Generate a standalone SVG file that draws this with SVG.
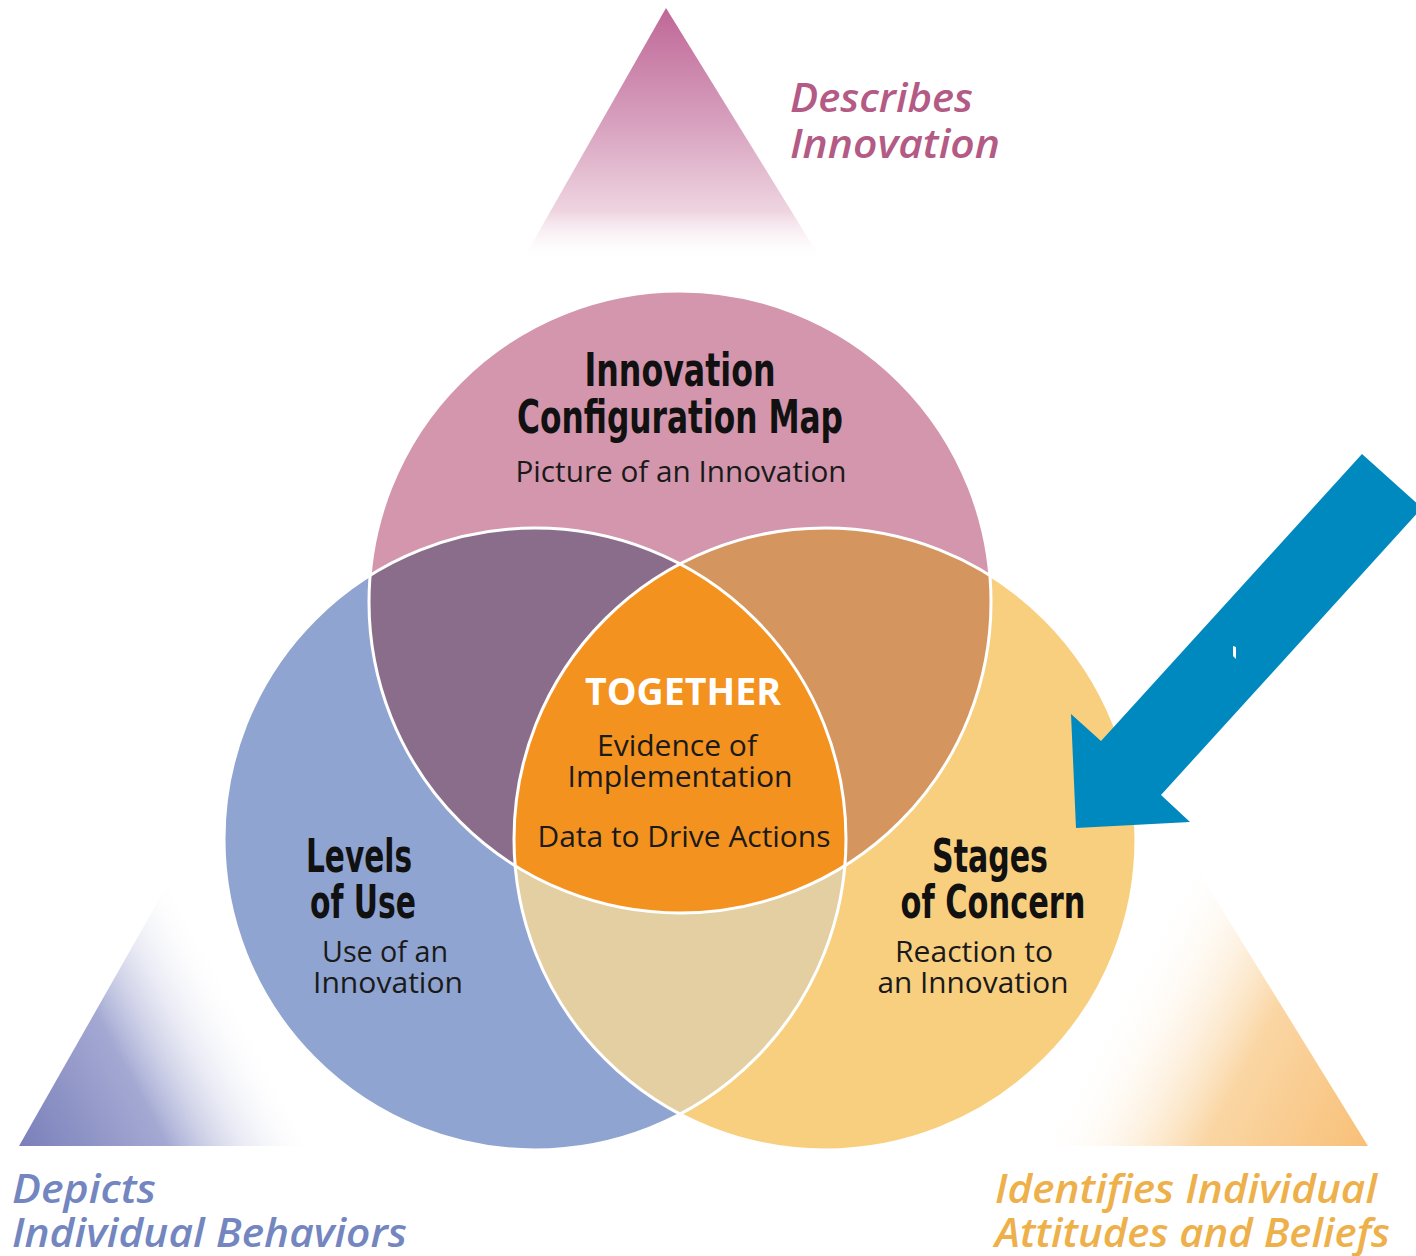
<svg xmlns="http://www.w3.org/2000/svg" width="1416" height="1256" viewBox="0 0 1416 1256">
<style>
.hd{font-family:"Liberation Sans Narrow","DejaVu Sans Condensed","DejaVu Sans",sans-serif;font-stretch:condensed;font-weight:bold;font-size:46px;fill:#111;text-anchor:middle}
.bd{font-family:"Open Sans","Noto Sans","Liberation Sans",sans-serif;font-size:29px;fill:#1a1a1a;text-anchor:middle}
.tg{font-family:"Open Sans","Noto Sans","Liberation Sans",sans-serif;font-weight:bold;font-size:38px;fill:#ffffff;text-anchor:middle}
.it{font-family:"Open Sans","Noto Sans","Liberation Sans",sans-serif;font-style:italic;font-weight:600;font-size:40px}
.ring{fill:none;stroke:#ffffff;stroke-width:3}
</style>
<defs>
<linearGradient id="gTop" gradientUnits="userSpaceOnUse" x1="0" y1="8" x2="0" y2="262">
<stop offset="0" stop-color="#BF6797" stop-opacity="1"/>
<stop offset="0.45" stop-color="#D7A0BE" stop-opacity="1"/>
<stop offset="0.8" stop-color="#EED4E0" stop-opacity="1"/>
<stop offset="1" stop-color="#FFFFFF" stop-opacity="0"/>
</linearGradient>
<linearGradient id="gLeft" gradientUnits="userSpaceOnUse" x1="19" y1="1146" x2="250" y2="1022">
<stop offset="0" stop-color="#7A7FBA" stop-opacity="1"/>
<stop offset="0.5" stop-color="#A4A9D3" stop-opacity="1"/>
<stop offset="1" stop-color="#FFFFFF" stop-opacity="0"/>
</linearGradient>
<linearGradient id="gRight" gradientUnits="userSpaceOnUse" x1="1368" y1="1146" x2="1110" y2="1008">
<stop offset="0" stop-color="#F8C078" stop-opacity="1"/>
<stop offset="0.5" stop-color="#FAD6A4" stop-opacity="1"/>
<stop offset="1" stop-color="#FFFFFF" stop-opacity="0"/>
</linearGradient>
<clipPath id="cTop"><circle cx="680" cy="602" r="311"/></clipPath>
<clipPath id="cLeft"><circle cx="535" cy="839" r="311"/></clipPath>
<clipPath id="cRight"><circle cx="825" cy="839" r="311"/></clipPath>
</defs>
<rect width="1416" height="1256" fill="#ffffff"/>

<g id="background-triangle">
<polygon points="666,8 19,1146 1368,1146" fill="url(#gTop)"/>
<polygon points="666,8 19,1146 1368,1146" fill="url(#gLeft)"/>
<polygon points="666,8 19,1146 1368,1146" fill="url(#gRight)"/>
</g>

<g id="node-icm">
<circle cx="680" cy="602" r="311" fill="#D396AC"/>
</g>
<g id="node-lou">
<circle cx="535" cy="839" r="311" fill="#8FA4D0"/>
</g>
<g id="node-soc">
<circle cx="825" cy="839" r="311" fill="#F8CF7F"/>
</g>
<g id="overlaps">
<circle cx="535" cy="839" r="311" fill="#8A6D8A" clip-path="url(#cTop)"/>
<circle cx="825" cy="839" r="311" fill="#D4955F" clip-path="url(#cTop)"/>
<circle cx="825" cy="839" r="311" fill="#E3CFA1" clip-path="url(#cLeft)"/>
</g>
<g id="node-together" clip-path="url(#cTop)">
<circle cx="825" cy="839" r="311" fill="#F4921F" clip-path="url(#cLeft)"/>
</g>
<g id="rings">
<circle class="ring" cx="680" cy="602" r="311"/>
<circle class="ring" cx="535" cy="839" r="311"/>
<circle class="ring" cx="825" cy="839" r="311"/>
</g>

<g id="labels-icm">
<text class="hd" x="680" y="386" textLength="191" lengthAdjust="spacingAndGlyphs">Innovation</text>
<text class="hd" x="680" y="433" textLength="326" lengthAdjust="spacingAndGlyphs">Configuration Map</text>
<text class="bd" x="681" y="482" textLength="331" lengthAdjust="spacingAndGlyphs">Picture of an Innovation</text>
</g>
<g id="labels-together">
<text class="tg" x="683" y="705" textLength="196" lengthAdjust="spacingAndGlyphs">TOGETHER</text>
<text class="bd" x="677" y="756" textLength="160" lengthAdjust="spacingAndGlyphs">Evidence of</text>
<text class="bd" x="680" y="787" textLength="225" lengthAdjust="spacingAndGlyphs">Implementation</text>
<text class="bd" x="684" y="847" textLength="293" lengthAdjust="spacingAndGlyphs">Data to Drive Actions</text>
</g>
<g id="labels-lou">
<text class="hd" x="359" y="872" textLength="106" lengthAdjust="spacingAndGlyphs">Levels</text>
<text class="hd" x="363" y="918" textLength="106" lengthAdjust="spacingAndGlyphs">of Use</text>
<text class="bd" x="385" y="962" textLength="126" lengthAdjust="spacingAndGlyphs">Use of an</text>
<text class="bd" x="388" y="993" textLength="150" lengthAdjust="spacingAndGlyphs">Innovation</text>
</g>
<g id="labels-soc">
<text class="hd" x="990" y="872" textLength="116" lengthAdjust="spacingAndGlyphs">Stages</text>
<text class="hd" x="993" y="918" textLength="185" lengthAdjust="spacingAndGlyphs">of Concern</text>
<text class="bd" x="974" y="962" textLength="158" lengthAdjust="spacingAndGlyphs">Reaction to</text>
<text class="bd" x="973" y="993" textLength="191" lengthAdjust="spacingAndGlyphs">an Innovation</text>
</g>

<g id="corner-labels">
<text class="it" x="790" y="112" fill="#B35A85" textLength="183" lengthAdjust="spacingAndGlyphs">Describes</text>
<text class="it" x="790" y="158" fill="#B35A85" textLength="210" lengthAdjust="spacingAndGlyphs">Innovation</text>
<text class="it" x="12" y="1203" fill="#7386C0" textLength="144" lengthAdjust="spacingAndGlyphs">Depicts</text>
<text class="it" x="12" y="1247" fill="#7386C0" textLength="395" lengthAdjust="spacingAndGlyphs">Individual Behaviors</text>
<text class="it" x="995" y="1203" fill="#EDB04A" textLength="382" lengthAdjust="spacingAndGlyphs">Identifies Individual</text>
<text class="it" x="995" y="1247" fill="#EDB04A" textLength="395" lengthAdjust="spacingAndGlyphs">Attitudes and Beliefs</text>
</g>

<g id="connectors">
<polygon points="1362,454 1422,508 1161,795 1190,822 1076,828 1071,714 1101,741" fill="#0089BF"/>
<polygon points="1233,646 1236,647 1236,659 1233,656" fill="#ffffff"/>
</g>
</svg>
